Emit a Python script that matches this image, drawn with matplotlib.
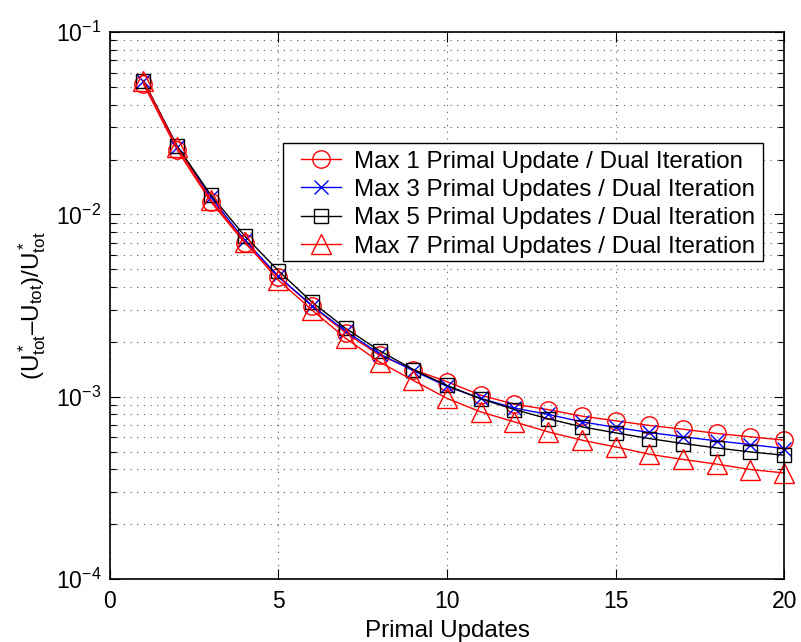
import numpy as np
import matplotlib
matplotlib.use("Agg")
import matplotlib.pyplot as plt
from matplotlib.patches import Rectangle
from matplotlib.ticker import LogLocator, FixedLocator, NullFormatter

plt.rcParams["font.family"] = ["Liberation Sans", "DejaVu Sans"]
plt.rcParams["mathtext.fontset"] = "custom"
plt.rcParams["mathtext.rm"] = "Liberation Sans"
plt.rcParams["mathtext.it"] = "Liberation Sans:italic"
plt.rcParams["mathtext.default"] = "regular"

# Data
updates = list(range(1, 21))

max1 = [0.0519, 0.02255, 0.01172, 0.00699, 0.00455, 0.00314, 0.00224, 0.00169,
        0.00141, 0.00121, 0.00102, 0.00091, 0.000850, 0.000783, 0.000738,
        0.000696, 0.000664, 0.000629, 0.000603, 0.000578]
max3 = [0.0541, 0.0235, 0.0124, 0.00724, 0.00458, 0.00316, 0.00229, 0.00172,
        0.00139, 0.00114, 0.00098, 0.000867, 0.000800, 0.000729, 0.000679,
        0.000637, 0.000603, 0.000573, 0.000547, 0.000520]
max5 = [0.0541, 0.0237, 0.01276, 0.00763, 0.00491, 0.00330, 0.00237, 0.00179,
        0.00141, 0.001153, 0.000975, 0.000851, 0.000757, 0.000684, 0.000634,
        0.000590, 0.000554, 0.000524, 0.000498, 0.000478]
max7 = [0.0540, 0.0233, 0.01199, 0.0071, 0.00436, 0.00299, 0.00209, 0.00155,
        0.00123, 0.00098, 0.000826, 0.000728, 0.000642, 0.000578, 0.000531,
        0.000484, 0.000453, 0.000427, 0.000399, 0.000382]

labels = [
    "Max 1 Primal Update / Dual Iteration",
    "Max 3 Primal Updates / Dual Iteration",
    "Max 5 Primal Updates / Dual Iteration",
    "Max 7 Primal Updates / Dual Iteration",
]

fig = plt.figure(figsize=(8.01, 6.42), dpi=100)
ax = fig.add_axes([0.137, 0.098, 0.842, 0.852])

ax.plot(updates, max1, color="r", lw=1, marker="o", ms=12.5, mfc="none",
        mec="r", mew=1, label=labels[0], clip_on=False)
ax.plot(updates, max3, color="b", lw=1, marker="x", ms=9.5, mec="b",
        mew=1, label=labels[1], clip_on=False)
ax.plot(updates, max5, color="k", lw=1, marker="s", ms=10.5, mfc="none",
        mec="k", mew=1, label=labels[2], clip_on=False)
ax.plot(updates, max7, color="r", lw=1, marker="^", ms=14.5, mfc="none",
        mec="r", mew=1, label=labels[3], clip_on=False)

ax.set_yscale("log")
ax.set_xlim(0, 20)
ax.set_ylim(1e-4, 1e-1)

ax.xaxis.set_major_locator(FixedLocator([0, 5, 10, 15, 20]))
ax.set_xticklabels(["0", "5", "10", "15", "20"])
ax.yaxis.set_major_locator(FixedLocator([1e-4, 1e-3, 1e-2, 1e-1]))
ax.set_yticklabels([r"$10^{-4}$", r"$10^{-3}$", r"$10^{-2}$", r"$10^{-1}$"])
ax.yaxis.set_minor_locator(LogLocator(base=10, subs=np.arange(2, 10), numticks=20))
ax.yaxis.set_minor_formatter(NullFormatter())

ax.tick_params(which="both", direction="in", top=True, right=True,
               labelsize=16.5, width=0.8)
ax.tick_params(which="major", length=7)
ax.tick_params(which="minor", length=4)
ax.tick_params(axis="x", pad=8)
ax.tick_params(axis="y", pad=6)

ax.grid(True, which="major", axis="both", color="0.35", linestyle=(0, (1, 5)), lw=0.8)
ax.grid(True, which="minor", axis="y", color="0.35", linestyle=(0, (1, 5)), lw=0.8)

for sp in ax.spines.values():
    sp.set_linewidth(1.2)
    sp.set_color("k")

ax.set_xlabel("Primal Updates", fontsize=17.4, labelpad=5)
ax.set_ylabel("$(U^*_{tot}\u2013U_{tot})/U^*_{tot}$", fontsize=17.4, labelpad=6)

# legend box drawn separately so its left padding can be wider than the top
ax.add_patch(Rectangle((0.2565, 0.582), 0.9684 - 0.2565, 0.7965 - 0.582,
                       transform=ax.transAxes, facecolor="white",
                       edgecolor="k", lw=1.0, zorder=4.9))
leg = ax.legend(loc="upper right", bbox_to_anchor=(0.9684, 0.7965),
                borderaxespad=0, fontsize=17.4, frameon=False,
                handlelength=1.65, handletextpad=0.55, labelspacing=0.26,
                borderpad=0.3)
leg.set_zorder(5)

fig.savefig("out.png", dpi=100)
